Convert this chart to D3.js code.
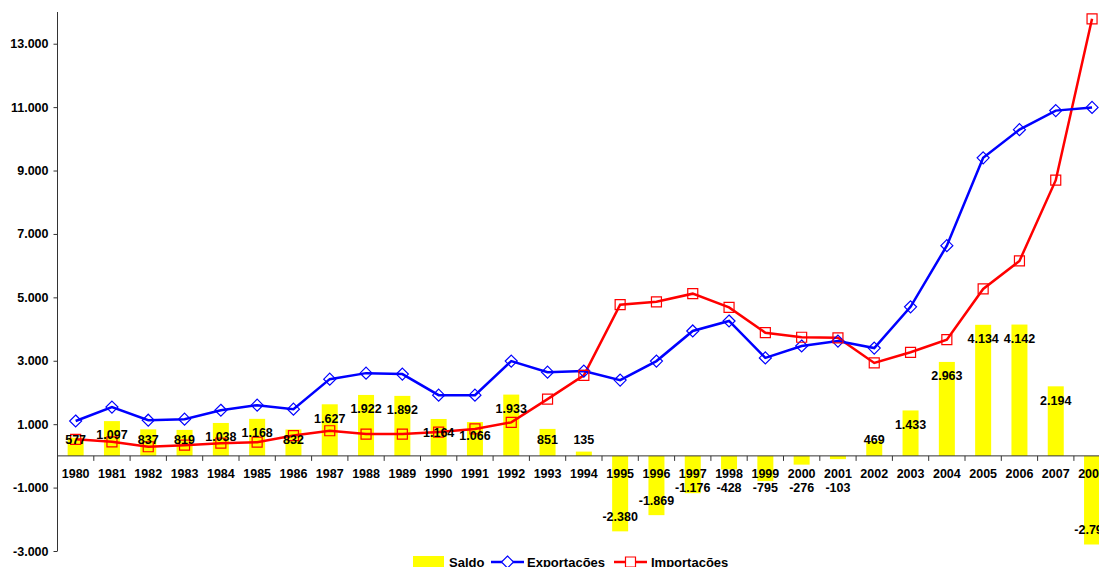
<!DOCTYPE html>
<html>
<head>
<meta charset="utf-8">
<script src="https://cdn.jsdelivr.net/npm/d3@7"></script>
<style>
  body { margin: 0; background: #fff; }
  svg { display: block; font-family: "Liberation Sans", Arial, sans-serif; font-weight: bold; }
</style>
</head>
<body>
<div id="chart"></div>
<script>
const years = [
    '1980', '1981', '1982', '1983', '1984', '1985', '1986', '1987', '1988', '1989',
    '1990', '1991', '1992', '1993', '1994', '1995', '1996', '1997', '1998', '1999',
    '2000', '2001', '2002', '2003', '2004', '2005', '2006', '2007', '2008'
];

const saldo = [
    577, 1097, 837, 819, 1038, 1168, 832, 1627, 1922, 1892,
    1164, 1066, 1933, 851, 135, -2380, -1869, -1176, -428, -795,
    -276, -103, 469, 1433, 2963, 4134, 4142, 2194, -2795
];

const exportacoes = [
    1100, 1540, 1125, 1157, 1440, 1600, 1473, 2420, 2610, 2580,
    1915, 1915, 2990, 2640, 2675, 2390, 2990, 3940, 4255, 3090,
    3465, 3620, 3400, 4700, 6630, 9400, 10290, 10890, 10990
];

const importacoes = [
    523, 443, 288, 338, 402, 432, 641, 793, 688, 688,
    751, 849, 1057, 1789, 2540, 4770, 4859, 5116, 4683, 3885,
    3741, 3723, 2931, 3267, 3667, 5266, 6148, 8696, 13785
];

const yTicks = [-3000, -1000, 1000, 3000, 5000, 7000, 9000, 11000, 13000];

const width = 1099;
const height = 567;
const margin = { top: 12, left: 57.5, bottom: 16 };

const locale = d3.formatLocale({ decimal: ",", thousands: ".", grouping: [3], currency: ["", ""], minus: "-" });
const fmt = locale.format(",.0f");

const svg = d3.select("#chart")
    .append("svg")
    .attr("width", width)
    .attr("height", height);

const xScale = d3.scaleBand()
    .domain(years)
    .range([margin.left, margin.left + years.length * 36.3])
    .padding(0);

const yScale = d3.scaleLinear()
    .domain([-3000, 14000])
    .range([height - margin.bottom, margin.top]);

const y0 = yScale(0);
const barW = 16;

// Bars (Saldo)
svg.append("g")
    .selectAll("rect")
    .data(saldo)
    .enter()
    .append("rect")
    .attr("x", (d, i) => xScale(years[i]) + xScale.bandwidth() / 2 - barW / 2)
    .attr("y", d => Math.min(yScale(d), y0))
    .attr("width", barW)
    .attr("height", d => Math.abs(yScale(d) - y0))
    .attr("fill", "#ffff00");

// Y axis
const yAxis = svg.append("g")
    .attr("transform", `translate(${margin.left},0)`)
    .call(d3.axisLeft(yScale).tickValues(yTicks).tickFormat(fmt).tickSize(4).tickPadding(5));
yAxis.select(".domain").attr("d", `M0,${yScale(14000)}V${yScale(-3000)}`).attr("stroke", "#333");
yAxis.selectAll(".tick line").attr("stroke", "#333");
yAxis.selectAll("text")
    .style("font-size", "12.5px")
    .style("font-weight", "bold")
    .attr("fill", "#000");

// X axis line at zero, ticks on category boundaries
const xg = svg.append("g");
xg.append("line")
    .attr("x1", margin.left).attr("x2", width)
    .attr("y1", y0).attr("y2", y0)
    .attr("stroke", "#333");
xg.selectAll(".xtick")
    .data(years.slice(1))
    .enter()
    .append("line")
    .attr("x1", d => xScale(d)).attr("x2", d => xScale(d))
    .attr("y1", y0).attr("y2", y0 + 5)
    .attr("stroke", "#333");
xg.selectAll(".xlabel")
    .data(years)
    .enter()
    .append("text")
    .attr("x", d => xScale(d) + xScale.bandwidth() / 2)
    .attr("y", y0 + 22)
    .attr("text-anchor", "middle")
    .style("font-size", "12.5px")
    .text(d => d);

// Lines
const line = series => d3.line()
    .x((d, i) => xScale(years[i]) + xScale.bandwidth() / 2)
    .y(d => yScale(d))(series);

svg.append("path")
    .attr("d", line(importacoes))
    .attr("fill", "none")
    .attr("stroke", "#ff0000")
    .attr("stroke-width", 2.5);

svg.append("path")
    .attr("d", line(exportacoes))
    .attr("fill", "none")
    .attr("stroke", "#0000ff")
    .attr("stroke-width", 2.5);

// Markers
const diamond = "M0,-6L6,0L0,6L-6,0Z";
const square = "M-5,-5H5V5H-5Z";

svg.append("g")
    .selectAll("path")
    .data(exportacoes)
    .enter()
    .append("path")
    .attr("d", diamond)
    .attr("transform", (d, i) => `translate(${xScale(years[i]) + xScale.bandwidth() / 2},${yScale(d)})`)
    .attr("fill", "none")
    .attr("stroke", "#0000ff")
    .attr("stroke-width", 1.2);

svg.append("g")
    .selectAll("path")
    .data(importacoes)
    .enter()
    .append("path")
    .attr("d", square)
    .attr("transform", (d, i) => `translate(${xScale(years[i]) + xScale.bandwidth() / 2},${yScale(d)})`)
    .attr("fill", "none")
    .attr("stroke", "#ff0000")
    .attr("stroke-width", 1.2);

// Saldo labels
svg.append("g")
    .selectAll("text")
    .data(saldo)
    .enter()
    .append("text")
    .attr("x", (d, i) => xScale(years[i]) + xScale.bandwidth() / 2)
    .attr("y", d => d >= 0
        ? Math.min(yScale(d) + 14, y0 - 16)
        : Math.max(yScale(d) - 15, y0 + 32))
    .attr("dy", "0.35em")
    .attr("text-anchor", "middle")
    .style("font-size", "12.5px")
    .text(d => fmt(d));

// Legend
const legend = svg.append("g").attr("transform", "translate(0,562)");
legend.append("rect")
    .attr("x", 413).attr("y", -6)
    .attr("width", 31).attr("height", 12)
    .attr("fill", "#ffff00");
legend.append("text").attr("x", 449).attr("y", 5).style("font-size", "13px").text("Saldo");

legend.append("line").attr("x1", 491).attr("x2", 524).attr("y1", 0).attr("y2", 0)
    .attr("stroke", "#0000ff").attr("stroke-width", 2.5);
legend.append("path").attr("d", diamond).attr("transform", "translate(507.5,0)")
    .attr("fill", "#fff").attr("stroke", "#0000ff").attr("stroke-width", 1.2);
legend.append("text").attr("x", 527).attr("y", 5).style("font-size", "13px").text("Exportações");

legend.append("line").attr("x1", 614).attr("x2", 647).attr("y1", 0).attr("y2", 0)
    .attr("stroke", "#ff0000").attr("stroke-width", 2.5);
legend.append("path").attr("d", square).attr("transform", "translate(630.5,0)")
    .attr("fill", "#fff").attr("stroke", "#ff0000").attr("stroke-width", 1.2);
legend.append("text").attr("x", 651).attr("y", 5).style("font-size", "13px").text("Importações");
</script>
</body>
</html>
